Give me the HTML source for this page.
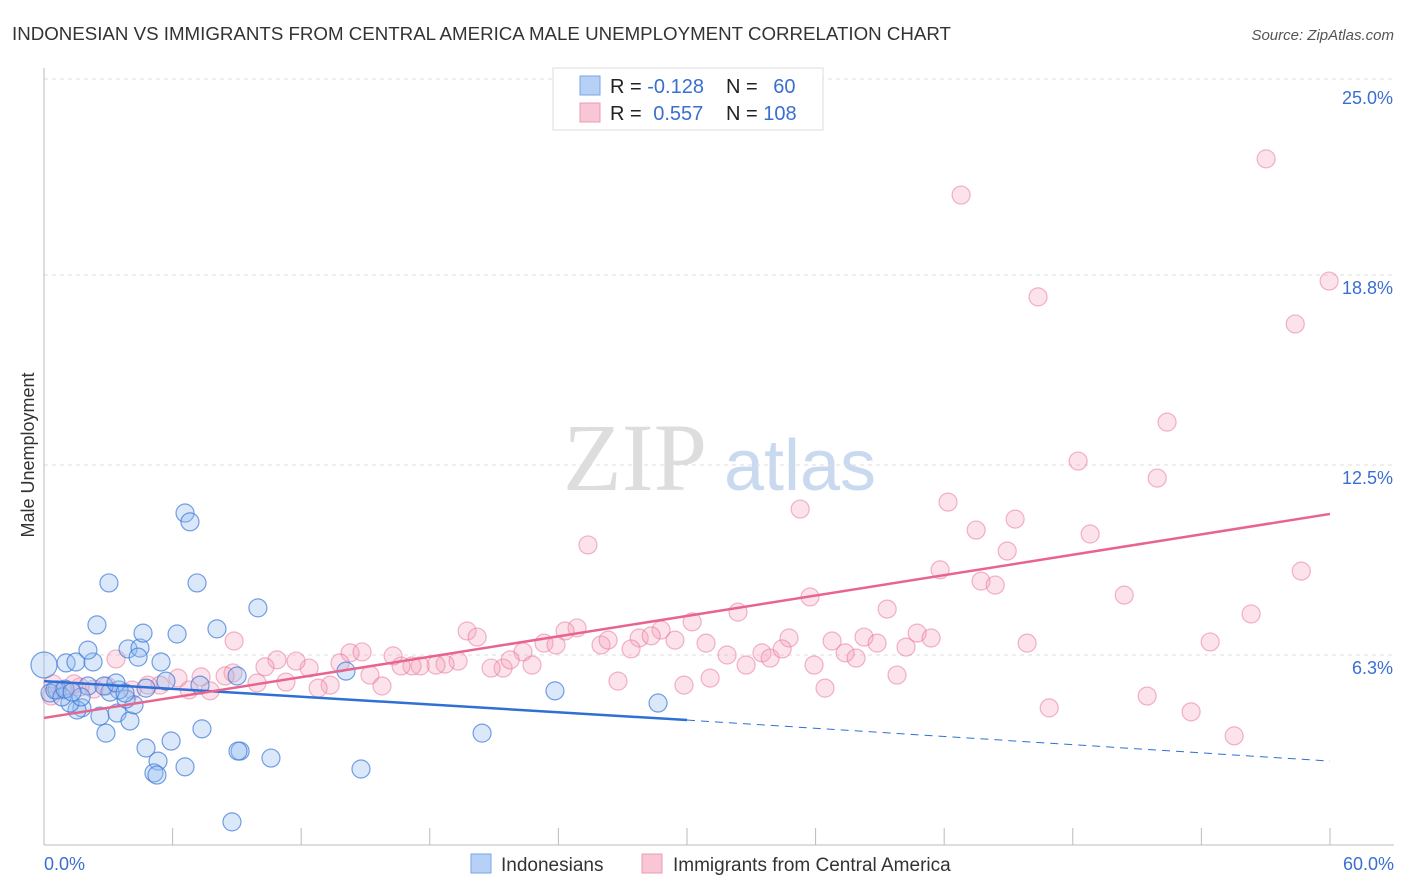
<!DOCTYPE html>
<html><head><meta charset="utf-8"><style>
body{margin:0;background:#fff;font-family:"Liberation Sans",sans-serif;}
svg{display:block}
</style></head><body>
<svg id="chart" width="1406" height="892">
<text x="12" y="40" font-size="18" fill="#333" textLength="939" lengthAdjust="spacingAndGlyphs">INDONESIAN VS IMMIGRANTS FROM CENTRAL AMERICA MALE UNEMPLOYMENT CORRELATION CHART</text>
<text x="1394" y="40" font-size="15" fill="#555" font-style="italic" text-anchor="end">Source: ZipAtlas.com</text>
<g>
<text x="635" y="490" font-size="96" fill="#ddd" font-family="Liberation Serif" text-anchor="middle">ZIP</text>
<text x="800" y="490" font-size="72" fill="#c9daf0" text-anchor="middle">atlas</text>
</g>
<g id="grid"></g><g id="axes"></g><g id="pts"></g><g id="trend"></g>
<text transform="translate(34,455) rotate(-90)" font-size="18" fill="#333" text-anchor="middle">Male Unemployment</text>
<text x="44" y="870" font-size="18" fill="#3a6fd0">0.0%</text>
<text x="1394" y="870" font-size="18" fill="#3a6fd0" text-anchor="end">60.0%</text>
<g>
<rect x="553" y="68" width="270" height="62" fill="#fff" stroke="#ddd"/>
<rect x="580" y="76" width="20" height="19" fill="#b7d0f5" stroke="#7aa6e6"/>
<rect x="580" y="103" width="20" height="19" fill="#f8c6d5" stroke="#eb9ab3"/>
<text x="610" y="93" font-size="20" fill="#222">R = <tspan fill="#3a6fd0">-0.128</tspan></text>
<text x="726" y="93" font-size="20" fill="#222">N = <tspan fill="#3a6fd0" dx="10">60</tspan></text>
<text x="610" y="120" font-size="20" fill="#222">R = <tspan fill="#3a6fd0" dx="6">0.557</tspan></text>
<text x="726" y="120" font-size="20" fill="#222">N = <tspan fill="#3a6fd0">108</tspan></text>
</g>
<g>
<rect x="471" y="854" width="20" height="19" fill="#b7d0f5" stroke="#7aa6e6"/>
<text x="501" y="871" font-size="19" fill="#333">Indonesians</text>
<rect x="642" y="854" width="20" height="19" fill="#f8c6d5" stroke="#eb9ab3"/>
<text x="673" y="871" font-size="19" fill="#333">Immigrants from Central America</text>
</g>
</svg>
<script>
const yTicks=[25,18.75,12.5,6.25];
const yTickLabels=["25.0%","18.8%","12.5%","6.3%"];
const xTicks=[0,6,12,18,24,30,36,42,48,54,60];
const blueX=[0,1.03,1.49,2.29,2.05,2.47,3.03,3.92,4.48,4.62,4.39,5.46,6.21,6.58,6.81,7.14,8.07,9.98,9.01,14.09,23.84,28.65,20.44,14.79,10.59,9.15,9.05,8.77,7.37,6.58,5.93,5.32,5.13,5.27,4.76,2.89,2.61,3.41,4.01,4.20,3.83,3.50,3.08,1.77,1.54,1.21,0.61,0.28,0.51,0.84,0.98,2.05,2.80,3.36,4.76,5.69,7.28,3.78,1.73,1.31];
const blueY=[5.92,5.99,6.02,6.02,6.41,7.24,8.62,6.45,6.48,6.97,6.18,6.02,6.94,10.92,10.63,8.62,7.11,7.80,5.56,5.72,5.07,4.67,3.68,2.50,2.86,3.09,3.09,0.76,3.82,2.57,3.42,2.76,2.37,2.30,3.19,3.68,4.24,4.34,4.08,4.61,4.80,5.10,5.03,4.51,4.44,4.67,5.10,5.00,5.10,4.87,5.13,5.23,5.23,5.33,5.16,5.39,5.26,5.00,4.87,5.03];
const pinkX=[57.02,42.79,59.96,46.38,58.38,52.40,48.25,51.94,42.18,35.28,43.49,45.31,48.81,25.38,44.94,41.81,58.66,43.72,44.38,35.74,50.40,32.38,39.34,56.32,30.24,19.74,20.21,28.79,24.87,24.31,23.33,23.89,22.35,25.99,26.32,27.77,28.33,30.89,36.77,38.26,40.74,41.39,34.76,38.87,45.87,54.41,29.44,27.39,31.87,33.50,33.88,34.44,37.38,37.89,32.76,40.22,35.93,31.08,29.86,26.78,36.44,39.80,51.47,46.90,53.52,55.53,21.42,20.86,21.75,22.77,19.32,18.71,18.29,17.55,17.17,16.66,16.29,15.21,15.77,14.28,14.84,13.81,13.35,12.79,12.37,11.76,11.29,10.87,10.31,9.94,8.82,8.87,8.45,7.75,7.33,6.77,6.25,5.41,4.85,3.36,4.11,2.94,2.33,1.68,0.89,0.42,0.33,1.40];
const pinkY=[22.57,21.38,18.55,18.03,17.14,13.91,12.63,12.07,11.28,11.05,10.36,10.72,10.23,9.87,9.67,9.05,9.01,8.68,8.55,8.16,8.22,7.66,7.76,7.60,7.34,7.04,6.84,7.07,7.14,7.04,6.64,6.58,6.35,6.58,6.74,6.81,6.88,6.64,6.71,6.84,6.97,6.81,6.81,6.64,6.64,6.68,6.74,6.45,6.25,6.32,6.15,6.45,6.32,6.15,5.92,6.51,5.92,5.49,5.26,5.39,5.16,5.59,4.90,4.51,4.38,3.59,5.82,5.82,6.09,5.92,6.05,5.95,5.92,5.89,5.89,5.89,6.22,5.59,5.23,6.32,6.35,5.99,5.26,5.16,5.82,6.05,5.36,6.09,5.86,5.33,5.66,6.71,5.56,5.07,5.53,5.10,5.49,5.26,5.26,6.12,5.10,5.23,5.13,5.20,5.10,5.30,4.90,5.30];
const blueTrend=[5.39,4.11,2.76];
const pinkTrend=[4.18,10.89];
const NS="http://www.w3.org/2000/svg";
const X=v=>44+v*21.433, Y=v=>845-v*30.4;
function mk(t,a,p){const e=document.createElementNS(NS,t);for(const k in a)e.setAttribute(k,a[k]);p.appendChild(e);return e;}
const gridG=document.getElementById('grid'),axesG=document.getElementById('axes'),ptsG=document.getElementById('pts'),trG=document.getElementById('trend');
yTicks.forEach((t,i)=>{
 const l=mk('line',{x1:44,x2:1394,y1:Y(t)-(i==0?6:0),y2:Y(t)-(i==0?6:0),stroke:'#ddd','stroke-dasharray':'4,4'},gridG);
 
 
 const tx=mk('text',{x:1393,y:Y(t)+19,'font-size':18,fill:'#3a6fd0','text-anchor':'end'},gridG);
 tx.textContent=yTickLabels[i];
 
 
});
const ya=mk('line',{x1:44,x2:44,y1:68,y2:845,stroke:'#bbb'},axesG);


const xa=mk('line',{x1:44,x2:1394,y1:845,y2:845,stroke:'#bbb'},axesG);


xTicks.forEach(t=>{const l=mk('line',{x1:X(t),x2:X(t),y1:828,y2:845,stroke:'#bbb'},axesG);
 
 });
pinkX.forEach((v,i)=>{const c=mk('circle',{cx:X(v),cy:Y(pinkY[i]),r:9,fill:'rgba(244,160,186,0.3)',stroke:'rgba(232,120,155,0.55)','stroke-width':1.2},ptsG);
 
 });
blueX.forEach((v,i)=>{const c=mk('circle',{cx:X(v),cy:Y(blueY[i]),r:i==0?13:9,fill:'rgba(150,190,240,0.35)',stroke:'rgba(60,120,215,0.7)','stroke-width':1.2},ptsG);
 
 });
const b1=mk('line',{x1:X(0),y1:Y(blueTrend[0]),x2:X(30),y2:Y(blueTrend[1]),stroke:'#2f6fd6','stroke-width':2.5},trG);


const b2=mk('line',{x1:X(30),y1:Y(blueTrend[1]),x2:X(60),y2:Y(blueTrend[2]),stroke:'#2f6fd6','stroke-width':1,'stroke-dasharray':'8,6'},trG);


const p1=mk('line',{x1:X(0),y1:Y(pinkTrend[0]),x2:X(60),y2:Y(pinkTrend[1]),stroke:'#e8648f','stroke-width':2.5},trG);


</script>
</body></html>
